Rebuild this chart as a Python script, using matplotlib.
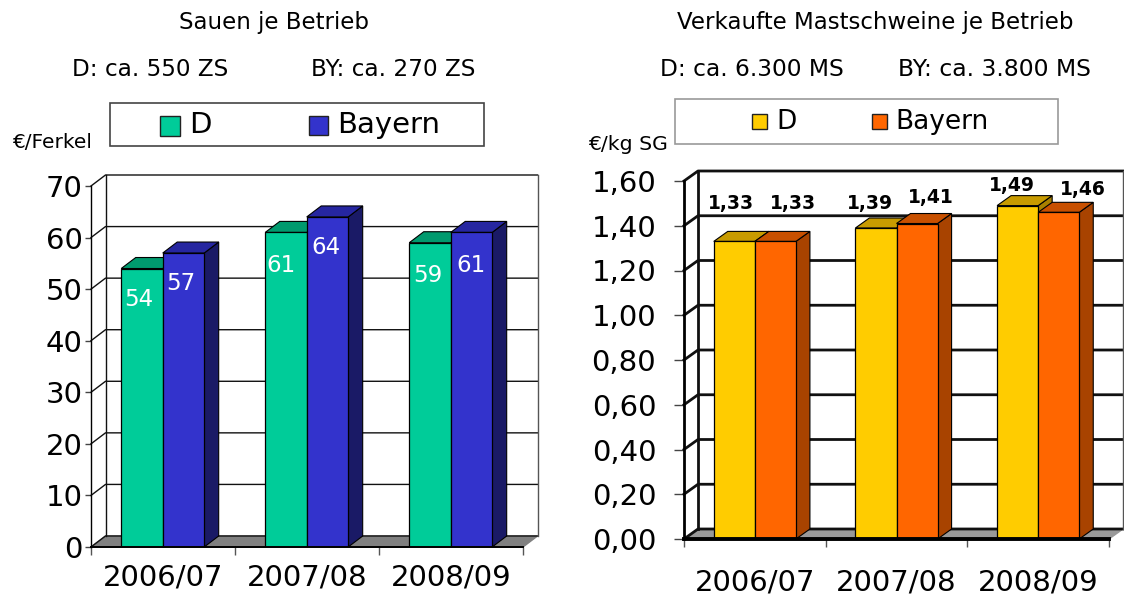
import numpy as np
import matplotlib
matplotlib.use("Agg")
from matplotlib import pyplot as plt
from matplotlib.patches import Rectangle

W, H = 1124, 598

# data
years = ["2006/07", "2007/08", "2008/09"]
ferkel_d = [54, 61, 59]
ferkel_by = [57, 64, 61]
ferkel_ticks = [0, 10, 20, 30, 40, 50, 60, 70]
ferkel_ticklabels = ["0", "10", "20", "30", "40", "50", "60", "70"]
ms_d = [1.33, 1.39, 1.49]
ms_by = [1.33, 1.41, 1.46]
ms_ticks = [0, 0.2, 0.4, 0.6, 0.8, 1.0, 1.2, 1.4, 1.6]
ms_ticklabels = ["0,00", "0,20", "0,40", "0,60", "0,80", "1,00", "1,20", "1,40", "1,60"]

fig = plt.figure(figsize=(W / 100, H / 100), dpi=100)


def ftext(x, y, s, size, ha="center", va="center", **kw):
    # x, y in image pixels
    fig.text(x / W, 1 - y / H, s, fontsize=size, ha=ha, va=va, **kw)


def panel(box, depth, vals1, vals2, ticks, ticklabels, cols, lw, pad, offs, bw, labelpad, floor, tlen):
    x0, x1, ybot, ytop = box
    ax = fig.add_axes([x0 / W, 1 - ybot / H, (x1 - x0) / W, (ybot - ytop) / H])
    ymax = ticks[-1]
    ax.set_xlim(0, 3)
    ax.set_ylim(0, ymax)
    ax.patch.set_visible(False)
    for s in ["top", "right", "bottom"]:
        ax.spines[s].set_visible(False)
    ax.spines["left"].set_linewidth(lw)
    dx = depth[0] / (x1 - x0) * 3
    dy = depth[1] / (ybot - ytop) * ymax

    # floor and back wall
    ax.fill([0, 3, 3 + dx, dx], [0, 0, dy, dy], color=floor, clip_on=False, zorder=1)
    for t in ticks:
        ax.plot([0, dx, 3 + dx], [t, t + dy, t + dy], color="#111111", lw=lw, clip_on=False, zorder=2)
    ax.plot([dx, dx], [dy, ymax + dy], color="#111111", lw=lw, clip_on=False, zorder=2)
    ax.plot([3 + dx, 3 + dx], [dy, ymax + dy], color="#555555", lw=1, clip_on=False, zorder=2)
    ax.plot([0, 3], [0, 0], color="black", lw=lw * 1.4, clip_on=False, zorder=6)

    # 3d bars
    for i in range(3):
        for j, v in enumerate([vals1[i], vals2[i]]):
            front, top, side = cols[j]
            left = i + offs + j * bw
            ax.fill([left + bw, left + bw + dx, left + bw + dx, left + bw],
                    [0, dy, v + dy, v], facecolor=side, edgecolor="black", lw=0.8,
                    clip_on=False, zorder=3 + j)
            ax.fill([left, left + bw, left + bw + dx, left + dx],
                    [v, v, v + dy, v + dy], facecolor=top, edgecolor="black", lw=0.8,
                    clip_on=False, zorder=3 + j)
            ax.bar(left, v, bw, align="edge", color=front, edgecolor="black", lw=0.9, zorder=3 + j)

    ax.set_yticks(ticks)
    ax.set_yticklabels(ticklabels, fontsize=21)
    ax.tick_params(axis="y", length=tlen, width=1, pad=pad, color="#444444")
    ax.set_xticks([0, 1, 2, 3])
    ax.set_xticklabels([])
    ax.tick_params(axis="x", length=6, width=1, color="#555555")
    ax.set_xticks([0.5, 1.5, 2.5], minor=True)
    ax.set_xticklabels(years, minor=True, fontsize=21)
    ax.tick_params(axis="x", which="minor", length=0, pad=labelpad)
    return ax


green = ("#00CC99", "#009A6E", "#00805C")
blue = ("#3333CC", "#2626A0", "#1A1A66")
yellow = ("#FFCC00", "#C89B00", "#A88000")
orange = ("#FF6600", "#C85000", "#A84300")

panel((91, 523, 547, 186), (14.5, 11), ferkel_d, ferkel_by, ferkel_ticks, ferkel_ticklabels,
      (green, blue), 1.0, 2, 0.21, 0.288, 12, "#808080", 4)
panel((684, 1109, 539, 181), (14, 10), ms_d, ms_by, ms_ticks, ms_ticklabels,
      (yellow, orange), 2.0, 13, 0.21, 0.29, 21, "#999999", 7)

# headings
ftext(274, 22, "Sauen je Betrieb", 16.5)
ftext(150, 69, "D: ca. 550 ZS", 16.7)
ftext(393, 69, "BY: ca. 270 ZS", 16.7)
ftext(875, 22, "Verkaufte Mastschweine je Betrieb", 16.5)
ftext(752, 69, "D: ca. 6.300 MS", 16.8)
ftext(994, 69, "BY: ca. 3.800 MS", 16.9)
ftext(52, 142, "€/Ferkel", 14.5)
ftext(628, 145, "€/kg SG", 14.7)

# legends
for xa, ya, wa, ha, ec in [(110, 103, 374, 43, "#444444"), (675, 99, 383, 45, "#999999")]:
    fig.add_artist(Rectangle((xa / W, 1 - (ya + ha) / H), wa / W, ha / H, transform=fig.transFigure,
                             facecolor="white", edgecolor=ec, lw=1.2))
for xa, ya, sz, col in [(160, 116, 20, green[0]), (309, 116, 19, blue[0]),
                        (752, 114, 15, yellow[0]), (872, 114, 15, orange[0])]:
    fig.add_artist(Rectangle((xa / W, 1 - (ya + sz) / H), sz / W, sz / H, transform=fig.transFigure,
                             facecolor=col, edgecolor="#222222", lw=1))
ftext(189, 125, "D", 21, ha="left")
ftext(337, 125, "Bayern", 21, ha="left")
ftext(776, 122, "D", 19, ha="left")
ftext(895, 122, "Bayern", 19, ha="left")

# value labels
pos_left = [(139, 299), (181, 284), (281, 266), (326, 248), (428, 275), (471, 266)]
txt_left = [ferkel_d[0], ferkel_by[0], ferkel_d[1], ferkel_by[1], ferkel_d[2], ferkel_by[2]]
for (x, y), v in zip(pos_left, txt_left):
    ftext(x, y, str(v), 16.5, color="white", zorder=10)

pos_right = [(731, 203), (793, 203), (870, 203), (931, 198), (1012, 186), (1083, 190)]
txt_right = [ms_d[0], ms_by[0], ms_d[1], ms_by[1], ms_d[2], ms_by[2]]
for (x, y), v in zip(pos_right, txt_right):
    ftext(x, y, ("%.2f" % v).replace(".", ","), 13.5, fontweight="bold", zorder=10)

fig.savefig("out.png", dpi=100)
